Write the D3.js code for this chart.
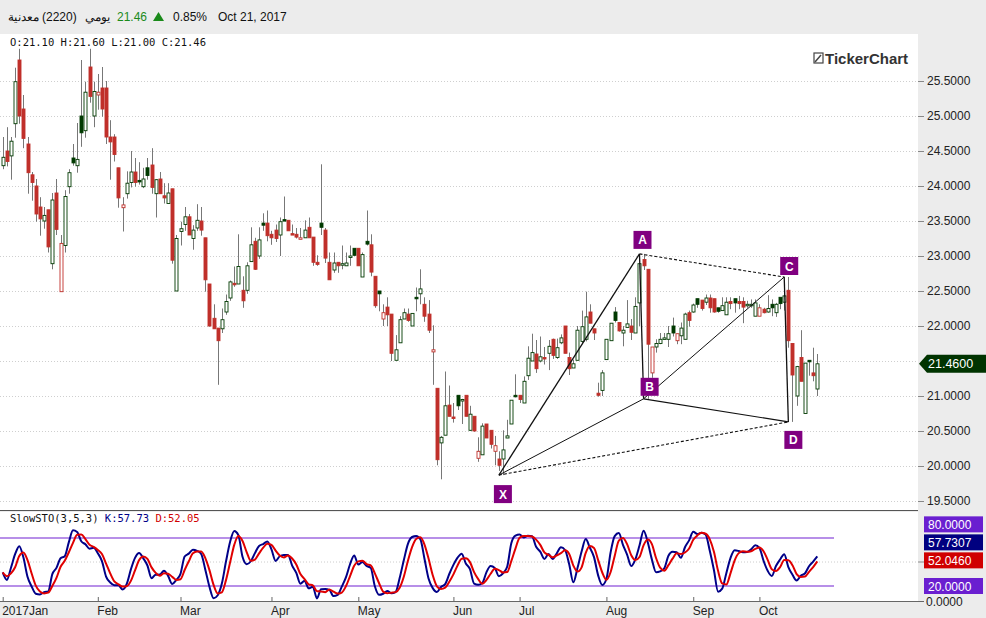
<!DOCTYPE html>
<html><head><meta charset="utf-8">
<script src="https://cdn.jsdelivr.net/npm/d3@7"></script>
<style>body{margin:0;background:#ececec}svg{display:block;font-family:"Liberation Sans",Arial,sans-serif}</style>
</head><body><div id="chart"></div>
<script>
// daily candles 2220, Jan - Oct 2017
var opens = [24.29,24.50,24.43,24.89,25.80,25.10,24.60,24.16,24.00,23.70,23.50,23.66,22.89,23.90,22.49,23.15,23.99,24.40,24.29,25.00,24.79,25.70,25.00,25.30,25.40,25.40,24.70,24.70,24.26,23.69,23.89,24.05,24.20,24.08,23.99,24.26,24.30,23.89,24.10,23.86,23.75,23.96,22.50,23.35,23.45,23.56,23.25,23.40,23.50,23.26,22.60,
  22.11,21.97,21.96,22.20,22.40,22.61,22.60,22.51,22.51,22.92,23.21,23.00,23.47,23.47,23.31,23.37,23.30,23.52,23.51,23.32,23.31,23.26,23.26,23.41,23.27,22.91,23.47,23.37,22.91,22.80,22.91,22.88,22.86,23.00,23.11,23.11,22.70,23.21,23.16,22.71,22.50,22.10,22.27,22.17,21.51,21.76,22.10,22.17,22.00,22.41,22.46,22.31,22.17,21.63,21.11,20.33,
  20.44,20.87,20.70,21.01,20.93,21.01,20.51,20.71,20.11,20.16,20.60,20.51,20.21,20.10,20.10,20.40,20.60,21.01,21.01,20.90,21.29,21.50,21.60,21.50,21.55,21.61,21.81,21.55,21.76,22.00,21.55,21.40,21.51,21.78,21.81,22.20,21.96,21.04,21.08,21.52,21.79,22.20,22.05,21.90,21.98,22.00,21.90,22.33,22.95,22.81,
  21.33,21.70,21.75,21.82,21.81,22.00,21.79,21.86,21.81,22.19,22.20,22.39,22.37,22.34,22.40,22.39,22.26,22.22,22.16,22.35,22.39,22.35,22.35,22.31,22.30,22.14,22.14,22.24,22.20,22.31,22.19,22.41,22.34,22.51,21.75,21.00,21.55,20.75,21.51,21.33,21.10];
var highs = [24.70,24.84,24.70,25.69,25.96,25.30,24.70,24.20,24.10,23.84,23.70,23.66,23.90,24.10,23.30,23.94,24.24,24.60,24.90,25.80,25.49,25.96,25.49,25.60,25.70,25.50,24.94,24.74,24.26,23.84,24.21,24.50,24.40,24.34,24.26,24.40,24.54,24.10,24.20,24.04,24.04,23.96,23.30,23.49,23.70,23.60,23.44,23.74,23.70,23.26,22.60,
  22.31,21.97,22.25,22.45,22.65,22.85,23.31,22.71,22.91,23.41,23.26,23.41,23.61,23.65,23.36,23.45,23.55,23.85,23.51,23.45,23.40,23.40,23.51,23.55,23.27,23.01,24.31,23.40,23.05,23.05,22.91,23.15,23.05,23.15,23.11,23.11,23.05,23.65,23.31,22.71,22.50,22.31,22.41,22.17,21.87,22.14,22.25,22.25,22.18,22.55,22.81,22.41,22.37,22.01,21.11,20.43,
  21.35,21.15,20.90,21.01,20.96,21.01,20.86,20.71,20.41,20.61,20.60,20.51,20.43,20.21,20.51,20.66,20.94,21.31,21.01,21.28,21.71,21.89,21.80,21.85,21.70,21.80,21.82,21.82,21.88,22.00,21.62,21.52,22.00,22.22,22.49,22.31,21.96,21.19,21.37,21.81,22.04,22.27,22.05,22.00,22.37,22.10,22.41,22.89,23.03,22.81,
  21.70,21.81,21.90,21.90,22.00,22.12,21.89,22.05,22.19,22.22,22.32,22.39,22.37,22.45,22.45,22.39,22.26,22.41,22.41,22.41,22.39,22.43,22.41,22.36,22.38,22.38,22.31,22.26,22.44,22.38,22.33,22.41,22.63,22.70,21.75,21.43,21.94,21.47,21.51,21.69,21.60];
var lows = [24.24,24.28,24.09,24.69,24.89,24.54,23.89,23.79,23.49,23.29,23.39,23.05,22.81,23.30,22.49,23.05,23.89,24.29,24.19,24.56,24.69,25.19,24.84,25.09,24.99,24.60,24.09,24.35,23.69,23.35,23.82,23.98,23.99,24.02,23.97,24.09,23.89,23.55,23.89,23.75,23.75,22.89,22.50,23.15,23.36,23.30,23.09,23.36,23.29,22.49,21.99,
  21.96,21.16,21.90,22.16,22.36,22.56,22.60,22.26,22.46,22.92,22.80,22.96,23.36,23.21,23.16,23.20,23.00,23.50,23.36,23.30,23.25,23.25,23.26,23.26,22.86,22.86,23.30,22.90,22.66,22.76,22.76,22.81,22.86,22.86,23.00,22.86,22.70,23.15,22.71,22.26,22.21,22.00,22.00,21.50,21.51,21.76,22.10,22.06,22.00,22.21,22.31,22.06,21.90,21.16,20.01,19.81,
  20.44,20.71,20.62,20.80,20.60,20.71,20.50,20.49,20.06,20.16,20.40,20.25,20.01,19.93,19.87,20.40,20.60,20.98,20.90,20.90,21.23,21.50,21.33,21.48,21.45,21.37,21.53,21.53,21.74,21.61,21.30,21.40,21.51,21.74,21.78,22.04,21.80,20.99,21.00,21.52,21.79,22.05,21.92,21.71,21.98,21.80,21.90,22.00,22.80,20.96,
  21.26,21.62,21.74,21.81,21.70,21.85,21.74,21.74,21.81,21.99,22.19,22.26,22.22,22.30,22.19,22.19,22.19,22.22,22.16,22.24,22.19,22.24,22.04,22.26,22.26,22.14,22.14,22.18,22.19,22.14,22.13,22.24,22.22,21.69,20.63,20.86,21.21,20.75,21.29,21.21,21.00];
var closes = [24.41,24.35,24.64,25.49,25.00,24.68,24.19,24.05,23.60,23.53,23.58,23.13,23.80,23.38,23.18,23.85,24.19,24.33,24.38,24.76,25.34,25.28,25.35,25.34,25.10,24.70,24.63,24.45,23.83,23.73,24.04,24.20,24.05,24.06,24.10,24.15,23.98,24.09,23.89,23.83,23.90,22.94,23.25,23.39,23.56,23.30,23.37,23.51,23.37,22.66,22.00,
  21.96,21.79,22.09,22.35,22.63,22.59,22.85,22.36,22.86,23.16,22.81,23.23,23.44,23.29,23.26,23.25,23.49,23.50,23.36,23.30,23.27,23.26,23.37,23.26,22.91,22.88,23.41,22.97,22.66,22.90,22.86,22.89,22.90,23.00,23.01,22.86,23.02,23.17,22.77,22.29,22.46,22.19,22.16,21.61,21.66,22.09,22.19,22.08,22.18,22.39,22.53,22.14,21.94,21.66,20.09,20.41,
  20.86,20.71,20.69,20.86,20.95,20.71,20.74,20.50,20.21,20.57,20.40,20.31,20.29,20.01,20.23,20.43,20.94,20.99,20.95,21.21,21.54,21.62,21.39,21.56,21.53,21.71,21.58,21.69,21.83,21.61,21.39,21.46,21.94,21.99,22.13,22.04,21.90,21.01,21.33,21.81,22.04,22.08,21.93,21.94,22.03,21.91,22.28,22.89,22.86,21.74,
  21.70,21.75,21.81,21.83,21.89,21.90,21.89,21.97,22.17,22.08,22.30,22.31,22.25,22.40,22.26,22.20,22.21,22.29,22.34,22.32,22.33,22.32,22.27,22.31,22.31,22.33,22.26,22.19,22.25,22.26,22.31,22.32,22.43,21.79,21.30,21.42,21.21,21.47,21.49,21.29,21.46];

var months = ['2017Jan','Feb','Mar','Apr','May','Jun','Jul','Aug','Sep','Oct'];
var monthIdx = [0,23,43,65,86,109,125,146,167,183];
var priceTicks = [19.5,20,20.5,21,21.5,22,22.5,23,23.5,24,24.5,25,25.5];
// harmonic pattern points, counted back from the last candle
var patternNames = ['X','A','B','C','D'];
var patternBack = [77,43,42,8,7];
var patternPrice = [19.87,23.03,20.96,22.70,20.63];
var stoLevels = [80,20];

var W = 986, H = 618, plotR = 918;
var n = closes.length;
var svg = d3.select('#chart').append('svg').attr('width', W).attr('height', H);
svg.append('rect').attr('width', W).attr('height', H).attr('fill', '#ececec');
svg.append('rect').attr('x', 0).attr('y', 34).attr('width', plotR).attr('height', 476).attr('fill', '#fff');
svg.append('rect').attr('x', 0).attr('y', 512).attr('width', plotR).attr('height', 89).attr('fill', '#fff');

var x = d3.scaleLinear().domain([0, n - 1]).range([2.7, 817.3]);
var y = d3.scaleLinear().domain([19.5, 25.5]).range([501, 81]);
var lastY = y(closes[n - 1]);

/* header */
var hd = svg.append('g').attr('font-size', 12).attr('fill', '#111');
hd.append('text').attr('x', 8).attr('y', 21).text('معدنية');
hd.append('text').attr('x', 42).attr('y', 21).text('(2220)');
hd.append('text').attr('x', 85).attr('y', 21).text('يومي');
hd.append('text').attr('x', 117).attr('y', 21).attr('fill', '#1a8a1a').text('21.46');
hd.append('path').attr('d', 'M153,21 L158.5,12 L164,21 Z').attr('fill', '#1a8a1a');
hd.append('text').attr('x', 173).attr('y', 21).text('0.85%');
hd.append('text').attr('x', 218).attr('y', 21).text('Oct 21, 2017');
svg.append('text').attr('x', 10).attr('y', 46).attr('font-size', 10.5).attr('font-family', 'DejaVu Sans Mono, monospace')
  .attr('fill', '#111').text('O:21.10 H:21.60 L:21.00 C:21.46');

/* logo */
svg.append('rect').attr('x', 814).attr('y', 53).attr('width', 9).attr('height', 10).attr('fill', 'none').attr('stroke', '#444').attr('stroke-width', 1.2);
svg.append('path').attr('d', 'M815,62 L821,55').attr('stroke', '#444').attr('stroke-width', 1.5);
svg.append('text').attr('x', 825).attr('y', 63.5).attr('font-size', 15).attr('font-weight', 'bold').attr('fill', '#333').text('TickerChart');

/* grid + price axis */
svg.append('g').selectAll('line').data(priceTicks).join('line')
  .attr('x1', 0).attr('x2', plotR).attr('y1', function(d) { return Math.round(y(d)) + 0.5; }).attr('y2', function(d) { return Math.round(y(d)) + 0.5; })
  .attr('stroke', '#cfcfcf').attr('stroke-dasharray', '1,2');
var ax = svg.append('g').attr('transform', 'translate(' + plotR + ',0)')
  .call(d3.axisRight(y).tickValues(priceTicks.filter(function(p) { return Math.abs(y(p) - lastY) > 12; }))
    .tickSize(6).tickFormat(d3.format('.4f')));
ax.select('.domain').remove();
ax.selectAll('line').attr('stroke', '#888');
ax.selectAll('text').attr('font-size', 12).attr('fill', '#222').attr('font-family', '"Liberation Sans",Arial,sans-serif');

/* candles */
var cd = d3.range(n).map(function(i) {
  var up = i === 0 ? closes[i] >= opens[i] : closes[i] >= closes[i - 1];
  return { i: i, o: opens[i], h: highs[i], l: lows[i], c: closes[i], up: up, filled: closes[i] < opens[i] };
});
var cg = svg.append('g');
cg.selectAll('.wick').data(cd).join('line').attr('class', 'wick')
  .attr('x1', function(d) { return Math.round(x(d.i)) + 0.5; }).attr('x2', function(d) { return Math.round(x(d.i)) + 0.5; })
  .attr('y1', function(d) { return y(d.h); }).attr('y2', function(d) { return y(d.l); })
  .attr('stroke', '#777').attr('stroke-width', 1);
cg.selectAll('.body').data(cd).join('rect').attr('class', 'body')
  .attr('x', function(d) { return Math.round(x(d.i)) - 1; }).attr('width', 3)
  .attr('y', function(d) { return y(Math.max(d.o, d.c)); })
  .attr('height', function(d) { return Math.max(1.5, Math.abs(y(d.o) - y(d.c))); })
  .attr('fill', function(d) { return d.filled ? (d.up ? '#003a00' : '#c0302a') : '#fff'; })
  .attr('stroke', function(d) { return d.up ? '#003a00' : '#c0302a'; }).attr('stroke-width', 0.9);

/* harmonic pattern */
var pts = patternBack.map(function(b, k) { return { name: patternNames[k], x: x(n - 1 - b), y: y(patternPrice[k]) }; });
var P = {}; pts.forEach(function(p) { P[p.name] = p; });
var segs = [['X','A',0,1.3],['A','B',0,1.3],['B','C',0,1],['C','D',0,1.3],['X','B',0,1],['B','D',0,1.2],['X','D',1,1.1],['A','C',1,1.1]];
svg.append('g').selectAll('line').data(segs).join('line')
  .attr('x1', function(s) { return P[s[0]].x; }).attr('y1', function(s) { return P[s[0]].y; })
  .attr('x2', function(s) { return P[s[1]].x; }).attr('y2', function(s) { return P[s[1]].y; })
  .attr('stroke', '#111').attr('stroke-width', function(s) { return s[3]; })
  .attr('stroke-dasharray', function(s) { return s[2] ? '3,2' : null; });
var lblOff = { X: [4, 19], A: [3, -14], B: [6, -12], C: [5, -11], D: [5, 18] };
var lg = svg.append('g').selectAll('g').data(pts).join('g')
  .attr('transform', function(p) { return 'translate(' + (p.x + lblOff[p.name][0]) + ',' + (p.y + lblOff[p.name][1]) + ')'; });
lg.append('rect').attr('x', -9).attr('y', -9).attr('width', 18).attr('height', 18).attr('fill', '#800080');
lg.append('text').attr('text-anchor', 'middle').attr('dy', 4.5).attr('font-size', 12).attr('font-weight', 'bold').attr('fill', '#fff').text(function(p) { return p.name; });

/* last price marker */
svg.append('path').attr('d', 'M919,' + lastY + ' L927,' + (lastY - 9) + ' L986,' + (lastY - 9) + ' L986,' + (lastY + 9) + ' L927,' + (lastY + 9) + ' Z').attr('fill', '#003300');
svg.append('text').attr('x', 928).attr('y', lastY + 4.5).attr('font-size', 12.5).attr('fill', '#fff').text(d3.format('.4f')(closes[n - 1]));

/* separators */
svg.append('line').attr('x1', 0).attr('x2', plotR).attr('y1', 510.5).attr('y2', 510.5).attr('stroke', '#555');

/* slow stochastic (3,5,3) from the candles */
var fastK = d3.range(n).map(function(i) {
  var a = Math.max(0, i - 4);
  var hh = d3.max(highs.slice(a, i + 1)), ll = d3.min(lows.slice(a, i + 1));
  return hh === ll ? 50 : (closes[i] - ll) / (hh - ll) * 100;
});
function sma(arr, p) { return arr.map(function(v, i) { return d3.mean(arr.slice(Math.max(0, i - p + 1), i + 1)); }); }
var kLine = sma(fastK, 3), dLine = sma(kLine, 3);
var ys = d3.scaleLinear().domain([0, 100]).range([602, 522]);
svg.append('line').attr('x1', 0).attr('x2', plotR).attr('y1', ys(50)).attr('y2', ys(50)).attr('stroke', '#ccc').attr('stroke-dasharray', '1,2');
svg.append('g').selectAll('line').data(stoLevels).join('line')
  .attr('x1', 0).attr('x2', 834).attr('y1', function(d) { return ys(d); }).attr('y2', function(d) { return ys(d); })
  .attr('stroke', '#9f6ae0').attr('stroke-width', 1.5);
var ln = d3.line().x(function(d, i) { return x(i); }).y(function(d) { return ys(d); }).curve(d3.curveMonotoneX);
svg.append('path').datum(kLine).attr('d', ln).attr('fill', 'none').attr('stroke', '#000088').attr('stroke-width', 2);
svg.append('path').datum(dLine).attr('d', ln).attr('fill', 'none').attr('stroke', '#e00000').attr('stroke-width', 2);
var st = svg.append('text').attr('x', 10).attr('y', 522).attr('font-size', 10.5).attr('font-family', 'DejaVu Sans Mono, monospace');
st.append('tspan').attr('fill', '#111').text('SlowSTO(3,5,3) ');
st.append('tspan').attr('fill', '#000088').text('K:57.73 ');
st.append('tspan').attr('fill', '#d00000').text('D:52.05');

// right-hand value boxes, pushed apart so they stack without overlapping
var stoLabels = [['80.0000', 80, '#6a1fd0'], ['57.7307', 57.7307, '#000080'], ['52.0460', 52.046, '#d00000'], ['20.0000', 20, '#6a1fd0']];
var boxY = stoLabels.map(function(d) { return ys(d[1]); });
for (var k = boxY.length - 2; k >= 0; k--) boxY[k] = Math.min(boxY[k], boxY[k + 1] - 18);
var sl = svg.append('g').selectAll('g').data(stoLabels).join('g')
  .attr('transform', function(d, k) { return 'translate(924,' + boxY[k] + ')'; });
sl.append('rect').attr('x', 0).attr('y', -8).attr('width', 59).attr('height', 16).attr('fill', function(d) { return d[2]; });
sl.append('text').attr('x', 4).attr('y', 4.5).attr('font-size', 12).attr('fill', '#fff').text(function(d) { return d[0]; });
svg.append('line').attr('x1', plotR).attr('x2', 924).attr('y1', ys(50)).attr('y2', ys(50)).attr('stroke', '#888');
svg.append('text').attr('x', 926).attr('y', 606).attr('font-size', 12).attr('fill', '#222').text('0.0000');

/* time axis */
svg.append('line').attr('x1', 0).attr('x2', 924).attr('y1', 601.5).attr('y2', 601.5).attr('stroke', '#666');
var xa = svg.append('g').attr('transform', 'translate(0,601)')
  .call(d3.axisBottom(x).tickValues(monthIdx).tickSize(-4).tickFormat(function(d, k) { return months[k]; }));
xa.select('.domain').remove();
xa.selectAll('line').attr('stroke', '#666');
xa.selectAll('text').attr('font-size', 12).attr('fill', '#222').attr('text-anchor', 'start').attr('dx', -1).attr('y', 5).attr('dy', '0.71em')
  .attr('font-family', '"Liberation Sans",Arial,sans-serif');
</script></body></html>
